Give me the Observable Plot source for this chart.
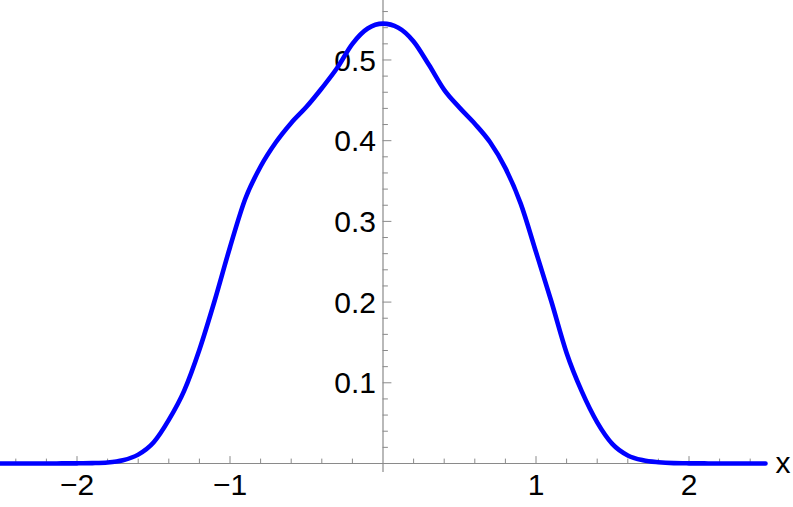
<!DOCTYPE html>
<html>
<head>
<meta charset="utf-8">
<script src="https://cdn.jsdelivr.net/npm/d3@7"></script>
<script src="https://cdn.jsdelivr.net/npm/@observablehq/plot@0.6"></script>
<style>
  html, body { margin: 0; padding: 0; background: #fff; }
  #chart svg { display: block; }
</style>
</head>
<body>
<div id="chart"></div>
<script>
// Curve samples
const xs = [-2.5,-2.4,-2.3,-2.2,-2.1,-2.0,-1.9,-1.8,-1.7,-1.6,-1.5,-1.4,-1.3,-1.2,-1.1,-1.0,-0.9,-0.8,-0.7,-0.6,-0.5,-0.4,-0.3,-0.2,-0.1,0.0,
            0.1,0.2,0.3,0.4,0.5,0.6,0.7,0.8,0.9,1.0,1.1,1.2,1.3,1.4,1.5,1.6,1.7,1.8,1.9,2.0,2.1,2.2,2.3,2.4,2.5];
const ys = [0,0,0,0,0.0001,0.0002,0.0005,0.0013,0.004,0.011,0.026,0.054,0.090,0.141,0.202,0.268,0.328,0.368,0.398,0.422,0.442,0.465,0.490,0.520,0.539,0.545,
            0.540,0.523,0.494,0.463,0.441,0.421,0.398,0.366,0.322,0.262,0.201,0.137,0.089,0.051,0.024,0.010,0.004,0.0016,0.0005,0.0002,0.0001,0,0,0,0];

// Tick positions and labels
const xMajorTicks = [-2, -1, 1, 2];
const xTickLabels = ["\u22122", "\u22121", "1", "2"];
const xMinorTicks = [-2.4,-2.2,-1.8,-1.6,-1.4,-1.2,-0.8,-0.6,-0.4,-0.2,0.2,0.4,0.6,0.8,1.2,1.4,1.6,1.8,2.2,2.4];
const yMajorTicks = [0.1, 0.2, 0.3, 0.4, 0.5];
const yTickLabels = ["0.1", "0.2", "0.3", "0.4", "0.5"];
const yMinorTicks = [0.02,0.04,0.06,0.08,0.12,0.14,0.16,0.18,0.22,0.24,0.26,0.28,0.32,0.34,0.36,0.38,0.42,0.44,0.46,0.48,0.52,0.54,0.56];
const xAxisName = "x";

const data = xs.map((x, i) => ({x, y: ys[i]}));
const tickShape = {draw(context, l) { context.moveTo(0, 0); context.lineTo(0, -l); }};
const axisColor = "#8a8a8a";
const font = "Liberation Sans, Arial, Helvetica, sans-serif";

const chart = Plot.plot({
  width: 793,
  height: 507,
  marginLeft: 0,
  marginRight: 28,
  marginTop: 0,
  marginBottom: 44,
  style: {fontFamily: font, background: "#fff"},
  x: {domain: [-2.5, 2.5], axis: null},
  y: {domain: [0, 0.5737], axis: null},
  marks: [
    // axes lines
    Plot.ruleY([0], {stroke: axisColor, strokeWidth: 1.2}),
    Plot.ruleX([0], {stroke: axisColor, strokeWidth: 1.2, insetBottom: -9}),
    // x ticks (upward)
    Plot.vector(xMajorTicks, {x: d => d, y: 0, length: 7, rotate: 0, anchor: "start", shape: tickShape, stroke: axisColor, strokeWidth: 1}),
    Plot.vector(xMinorTicks, {x: d => d, y: 0, length: 4.5, rotate: 0, anchor: "start", shape: tickShape, stroke: axisColor, strokeWidth: 1}),
    // y ticks (rightward)
    Plot.vector(yMajorTicks, {x: 0, y: d => d, length: 8, rotate: 90, anchor: "start", shape: tickShape, stroke: axisColor, strokeWidth: 1}),
    Plot.vector(yMinorTicks, {x: 0, y: d => d, length: 4.5, rotate: 90, anchor: "start", shape: tickShape, stroke: axisColor, strokeWidth: 1}),
    // tick labels
    Plot.text(xMajorTicks, {x: d => d, y: 0, text: (d, i) => xTickLabels[i], dy: 22, fontSize: 30, fill: "#000", textAnchor: "middle"}),
    Plot.text(yMajorTicks, {x: 0, y: d => d, text: (d, i) => yTickLabels[i], dx: -7, dy: 1, fontSize: 30, fill: "#000", textAnchor: "end"}),
    Plot.text([xAxisName], {x: 2.5, y: 0, text: d => d, dx: 10, fontSize: 30, fill: "#000", textAnchor: "start"}),
    // curve
    Plot.line(data, {x: "x", y: "y", stroke: "#0000ff", strokeWidth: 4.6, curve: "monotone-x", strokeLinejoin: "round"})
  ]
});
document.getElementById("chart").appendChild(chart);
</script>
</body>
</html>
